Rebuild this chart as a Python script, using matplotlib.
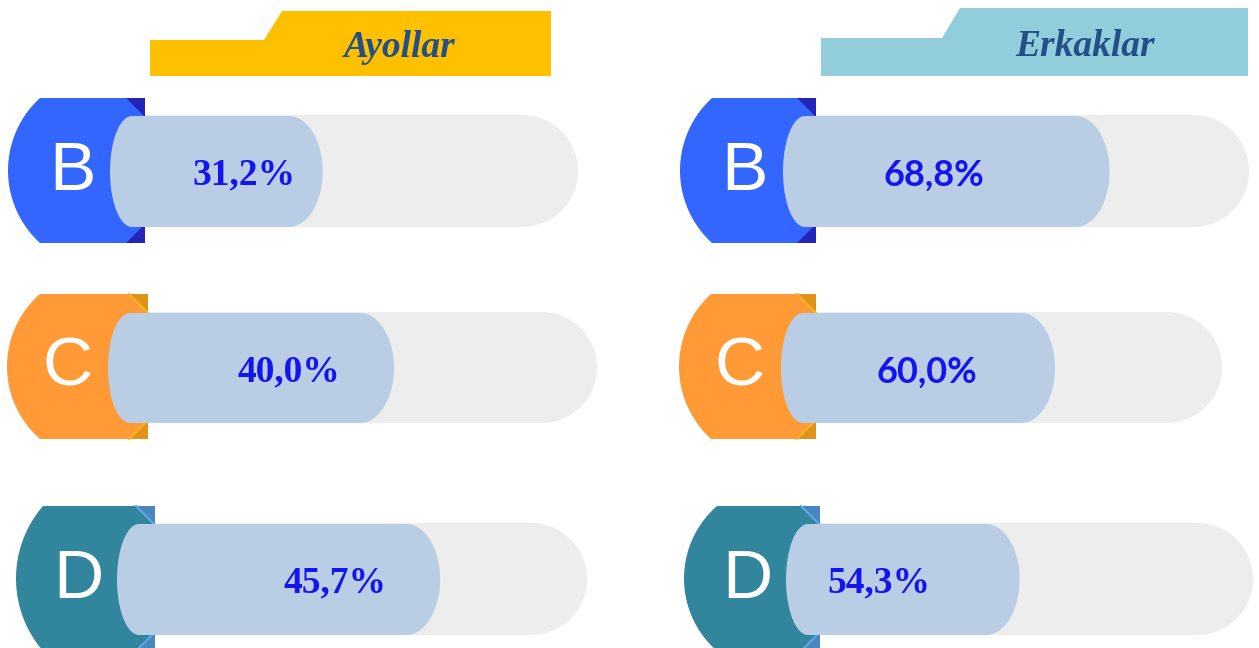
import numpy as np
from matplotlib import pyplot as plt
from matplotlib.patches import Polygon

categories = ['B', 'C', 'D']
women = [31.2, 40.0, 45.7]
men = [68.8, 60.0, 54.3]
panel_titles = ['Ayollar', 'Erkaklar']

W, H = 1259, 648

BADGE_COLORS = ['#3366FF', '#FF9A36', '#31859C']
FOLD_COLORS = ['#2424B8', '#E0921A', '#4A86BE']
FOLD_EDGES = [None, '#F5B624', '#5CA8E8']
BAR_COLOR = '#B9CDE5'
TRACK_COLOR = '#EDEDED'
PCT_COLOR = '#1414EE'
TITLE_COLOR = '#244F87'

# layout per panel (pixel coords, y down)
PANELS = [
    {
        'zero': 70, 'px_per_pct': 8.1, 'xmax': 60,
        'header': [(150, 76), (150, 40), (264, 40), (282, 11), (551, 11), (551, 76)],
        'header_color': '#FFC000', 'title_xy': (400, 57),
        # L, xa, T, Bt, R
        'badges': [(8, 40, 98, 243, 145), (7, 40, 294, 439, 148), (16, 43, 506, 651, 155)],
        'tracks': [(115, 227, 578), (312, 423, 597), (523, 635, 587)],
        'bar_left': [110, 108, 117],
        'letters': [(72, 172), (68, 367), (78, 580)],
        'texts': [(244, 175), (289, 372), (335, 583)],
        'serif': [True, True, True],
    },
    {
        'zero': 683, 'px_per_pct': 6.2, 'xmax': 80,
        'header': [(821, 76), (821, 38), (942, 38), (960, 8), (1248, 8), (1248, 76)],
        'header_color': '#92CDDC', 'title_xy': (1085, 56),
        'badges': [(680, 712, 98, 243, 816), (679, 711, 294, 439, 816), (684, 717, 506, 651, 820)],
        'tracks': [(115, 227, 1249), (312, 423, 1222), (523, 635, 1253)],
        'bar_left': [783, 781, 786],
        'letters': [(744, 172), (740, 367), (747, 580)],
        'texts': [(934, 175), (927, 372), (879, 583)],
        'serif': [False, False, True],
    },
]


def badge_shape(L, xa, T, Bt, R):
    h = (Bt - T) / 2
    d = xa - L
    r = (d ** 2 + h ** 2) / (2 * d)
    cx, cy = L + r, (T + Bt) / 2
    a0 = np.arctan2(h, -(r - d))
    a1 = np.arctan2(-h, -(r - d)) + 2 * np.pi
    t = np.linspace(a0, a1, 80)
    pts = list(zip(cx + r * np.cos(t), cy + r * np.sin(t)))
    pts += [(R, T), (R, Bt)]
    return pts


def track_shape(x0, t, b, end):
    rr = (b - t) / 2
    th = np.linspace(-np.pi / 2, np.pi / 2, 60)
    pts = [(x0, t)]
    pts += list(zip(end - rr + rr * np.cos(th), (t + b) / 2 + rr * np.sin(th)))
    pts += [(x0, b)]
    return pts


def bar_shape(xl, xr, t, b, rxl, rxr):
    ym, ry = (t + b) / 2, (b - t) / 2
    th_r = np.linspace(-np.pi / 2, np.pi / 2, 60)
    th_l = np.linspace(np.pi / 2, 3 * np.pi / 2, 60)
    pts = list(zip(xr - rxr + rxr * np.cos(th_r), ym + ry * np.sin(th_r)))
    pts += list(zip(xl + rxl + rxl * np.cos(th_l), ym + ry * np.sin(th_l)))
    return pts


def fmt(v):
    return f"{v:.1f}".replace('.', ',') + '%'


fig = plt.figure(figsize=(W / 100, H / 100), dpi=100)
bg = fig.add_axes([0, 0, 1, 1])
bg.set_xlim(0, W)
bg.set_ylim(H, 0)
bg.axis('off')

for p, title, values in zip(PANELS, panel_titles, [women, men]):
    bg.add_patch(Polygon(p['header'], closed=True, fc=p['header_color'], ec='none'))
    bg.text(*p['title_xy'], title, ha='center', va='baseline', fontsize=27,
            family='Liberation Serif', style='italic', weight='bold', color=TITLE_COLOR)

    for i in range(len(categories)):
        L, xa, T, Bt, R = p['badges'][i]
        t, b, end = p['tracks'][i]
        bg.add_patch(Polygon(track_shape(R - 30, t, b, end), closed=True,
                             fc=TRACK_COLOR, ec='none', zorder=1))
        bg.add_patch(Polygon(badge_shape(L, xa, T, Bt, R), closed=True,
                             fc=BADGE_COLORS[i], ec='none', zorder=2))
        for y0, dy in ((T, 19), (Bt, -19)):
            bg.add_patch(Polygon([(R - 19, y0), (R, y0), (R, y0 + dy)], closed=True,
                                 fc=FOLD_COLORS[i], ec='none', zorder=2))
            if FOLD_EDGES[i]:
                bg.plot([R - 19, R], [y0, y0 + dy], color=FOLD_EDGES[i], lw=1.5, zorder=2)
        bg.text(*p['letters'][i], categories[i], ha='center', va='center',
                fontsize=50, family='Liberation Sans', color='white', zorder=3)

    # value axis for this panel: x in percent, y in pixels
    z, k = p['zero'], p['px_per_pct']
    ax = fig.add_axes([z / W, 0, p['xmax'] * k / W, 1])
    ax.set_xlim(0, p['xmax'])
    ax.set_ylim(H, 0)
    ax.axis('off')
    ax.patch.set_alpha(0)
    for i, v in enumerate(values):
        t, b, _ = p['tracks'][i]
        xl = (p['bar_left'][i] - z) / k
        ax.add_patch(Polygon(bar_shape(xl, v, t + 1, b, 22 / k, 34 / k), closed=True,
                             fc=BAR_COLOR, ec='none', clip_on=False))
        if p['serif'][i]:
            font = dict(family='Liberation Serif', weight='bold', fontsize=27)
        else:
            font = dict(family='Lato', weight='bold', fontsize=26)
        ax.text(*p['texts'][i], fmt(v), transform=bg.transData, ha='center',
                va='center', color=PCT_COLOR, **font)

plt.savefig('out.png', dpi=100)
